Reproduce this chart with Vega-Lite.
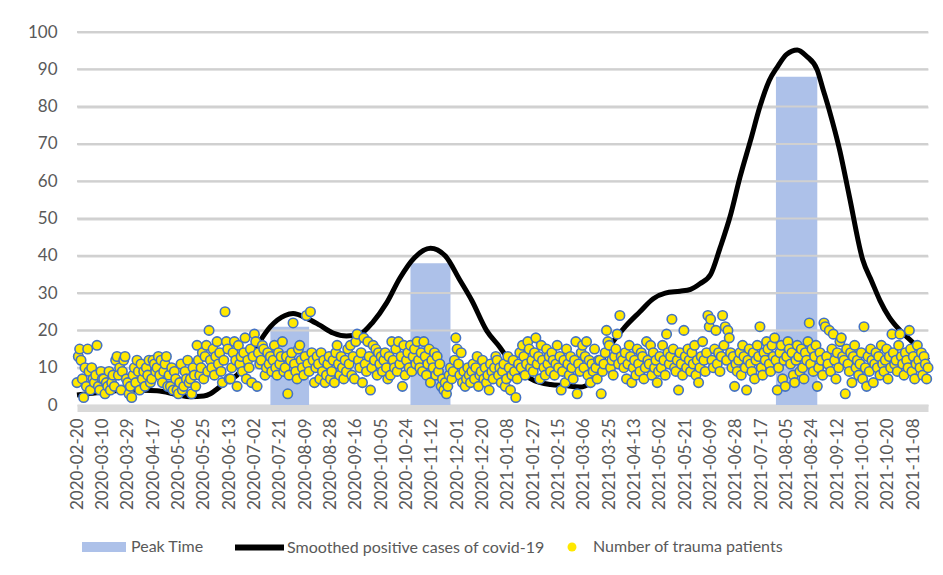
{
"$schema":"https://vega.github.io/schema/vega-lite/v6.json",
"width":851,"height":373,
"autosize":{"type":"none"},
"padding":{"left":77,"top":32,"right":15,"bottom":170},
"background":"white",
"config":{"view":{"stroke":null},"font":"Lato"},
"datasets":{
"gridvals":[{"g":10},{"g":20},{"g":30},{"g":40},{"g":50},{"g":60},{"g":70},{"g":80},{"g":90},{"g":100}],
"peaks":[{"s":"2020-07-14","e":"2020-08-12","v":21},{"s":"2020-10-27","e":"2020-11-26","v":38},{"s":"2021-07-28","e":"2021-08-28","v":88}],
"smooth":[
{"d":"2020-02-20","c":2.7},{"d":"2020-03-11","c":3.5},{"d":"2020-03-31","c":4.0},{"d":"2020-04-20","c":3.8},{"d":"2020-05-05","c":2.8},{"d":"2020-05-15","c":2.2},{"d":"2020-05-25","c":2.4},{"d":"2020-05-30","c":3.0},{"d":"2020-06-04","c":4.3},{"d":"2020-06-09","c":5.8},{"d":"2020-06-19","c":8},{"d":"2020-07-01","c":14},{"d":"2020-07-06","c":17},{"d":"2020-07-14","c":21},{"d":"2020-07-25","c":24},{"d":"2020-07-31","c":24.5},{"d":"2020-08-10","c":23.3},{"d":"2020-08-20","c":21.4},{"d":"2020-08-30","c":19.3},{"d":"2020-09-09","c":18.5},{"d":"2020-09-19","c":19},{"d":"2020-09-29","c":22.3},{"d":"2020-10-09","c":27.3},{"d":"2020-10-19","c":34},{"d":"2020-10-30","c":39.5},{"d":"2020-11-11","c":42},{"d":"2020-11-22","c":40},{"d":"2020-12-03","c":33.5},{"d":"2020-12-12","c":28},{"d":"2020-12-23","c":20},{"d":"2021-01-02","c":15.5},{"d":"2021-01-10","c":11.5},{"d":"2021-01-17","c":9},{"d":"2021-01-28","c":6.5},{"d":"2021-02-09","c":5.5},{"d":"2021-02-20","c":5.2},{"d":"2021-03-03","c":4.8},{"d":"2021-03-11","c":6},{"d":"2021-03-16","c":9},{"d":"2021-03-21","c":13},{"d":"2021-03-26","c":16},{"d":"2021-04-06","c":21},{"d":"2021-04-17","c":25},{"d":"2021-04-27","c":28.5},{"d":"2021-05-06","c":30},{"d":"2021-05-17","c":30.5},{"d":"2021-05-25","c":31},{"d":"2021-06-01","c":32.5},{"d":"2021-06-09","c":35},{"d":"2021-06-16","c":42},{"d":"2021-06-24","c":51},{"d":"2021-07-01","c":61},{"d":"2021-07-09","c":71},{"d":"2021-07-16","c":80},{"d":"2021-07-23","c":87},{"d":"2021-07-29","c":90.6},{"d":"2021-08-05","c":94},{"d":"2021-08-13","c":95.2},{"d":"2021-08-20","c":93.5},{"d":"2021-08-28","c":89.8},{"d":"2021-09-01","c":85},{"d":"2021-09-06","c":79},{"d":"2021-09-14","c":68},{"d":"2021-09-21","c":56},{"d":"2021-10-01","c":39},{"d":"2021-10-08","c":33},{"d":"2021-10-14","c":28},{"d":"2021-10-21","c":23.5},{"d":"2021-10-29","c":20},{"d":"2021-11-08","c":16.6},{"d":"2021-11-19","c":12}
],
"trauma":[
{"d":"2020-02-20","n":6},{"d":"2020-02-21","n":13},{"d":"2020-02-22","n":15},{"d":"2020-02-23","n":12},{"d":"2020-02-24","n":7},{"d":"2020-02-25","n":2},{"d":"2020-02-26","n":10},{"d":"2020-02-27","n":5},{"d":"2020-02-28","n":15},{"d":"2020-02-29","n":9},
{"d":"2020-03-01","n":4},{"d":"2020-03-02","n":10},{"d":"2020-03-03","n":7},{"d":"2020-03-04","n":6},{"d":"2020-03-05","n":8},{"d":"2020-03-06","n":16},{"d":"2020-03-07","n":5},{"d":"2020-03-08","n":4},{"d":"2020-03-09","n":9},{"d":"2020-03-10","n":7},{"d":"2020-03-11","n":7},{"d":"2020-03-12","n":3},{"d":"2020-03-13","n":6},{"d":"2020-03-14","n":5},{"d":"2020-03-15","n":9},{"d":"2020-03-16","n":4},{"d":"2020-03-17","n":6},{"d":"2020-03-18","n":8},{"d":"2020-03-19","n":5},{"d":"2020-03-20","n":12},{"d":"2020-03-21","n":13},{"d":"2020-03-22","n":8},{"d":"2020-03-23","n":10},{"d":"2020-03-24","n":4},{"d":"2020-03-25","n":9},{"d":"2020-03-26","n":12},{"d":"2020-03-27","n":13},{"d":"2020-03-28","n":7},{"d":"2020-03-29","n":6},{"d":"2020-03-30","n":3},{"d":"2020-03-31","n":5},
{"d":"2020-04-01","n":2},{"d":"2020-04-02","n":8},{"d":"2020-04-03","n":10},{"d":"2020-04-04","n":6},{"d":"2020-04-05","n":12},{"d":"2020-04-06","n":9},{"d":"2020-04-07","n":4},{"d":"2020-04-08","n":11},{"d":"2020-04-09","n":7},{"d":"2020-04-10","n":9},{"d":"2020-04-11","n":5},{"d":"2020-04-12","n":10},{"d":"2020-04-13","n":8},{"d":"2020-04-14","n":12},{"d":"2020-04-15","n":6},{"d":"2020-04-16","n":7},{"d":"2020-04-17","n":12},{"d":"2020-04-18","n":11},{"d":"2020-04-19","n":9},{"d":"2020-04-20","n":10},{"d":"2020-04-21","n":13},{"d":"2020-04-22","n":8},{"d":"2020-04-23","n":12},{"d":"2020-04-24","n":6},{"d":"2020-04-25","n":9},{"d":"2020-04-26","n":11},{"d":"2020-04-27","n":13},{"d":"2020-04-28","n":5},{"d":"2020-04-29","n":8},{"d":"2020-04-30","n":5},
{"d":"2020-05-01","n":10},{"d":"2020-05-02","n":4},{"d":"2020-05-03","n":9},{"d":"2020-05-04","n":7},{"d":"2020-05-05","n":4},{"d":"2020-05-06","n":3},{"d":"2020-05-07","n":6},{"d":"2020-05-08","n":11},{"d":"2020-05-09","n":4},{"d":"2020-05-10","n":5},{"d":"2020-05-11","n":9},{"d":"2020-05-12","n":7},{"d":"2020-05-13","n":12},{"d":"2020-05-14","n":6},{"d":"2020-05-15","n":7},{"d":"2020-05-16","n":3},{"d":"2020-05-17","n":10},{"d":"2020-05-18","n":8},{"d":"2020-05-19","n":5},{"d":"2020-05-20","n":16},{"d":"2020-05-21","n":12},{"d":"2020-05-22","n":8},{"d":"2020-05-23","n":10},{"d":"2020-05-24","n":14},{"d":"2020-05-25","n":7},{"d":"2020-05-26","n":13},{"d":"2020-05-27","n":16},{"d":"2020-05-28","n":9},{"d":"2020-05-29","n":20},{"d":"2020-05-30","n":12},{"d":"2020-05-31","n":10},
{"d":"2020-06-01","n":15},{"d":"2020-06-02","n":8},{"d":"2020-06-03","n":13},{"d":"2020-06-04","n":17},{"d":"2020-06-05","n":11},{"d":"2020-06-06","n":14},{"d":"2020-06-07","n":9},{"d":"2020-06-08","n":6},{"d":"2020-06-09","n":12},{"d":"2020-06-10","n":25},{"d":"2020-06-11","n":17},{"d":"2020-06-12","n":15},{"d":"2020-06-13","n":7},{"d":"2020-06-14","n":7},{"d":"2020-06-15","n":10},{"d":"2020-06-16","n":14},{"d":"2020-06-17","n":17},{"d":"2020-06-18","n":12},{"d":"2020-06-19","n":5},{"d":"2020-06-20","n":16},{"d":"2020-06-21","n":11},{"d":"2020-06-22","n":13},{"d":"2020-06-23","n":9},{"d":"2020-06-24","n":14},{"d":"2020-06-25","n":18},{"d":"2020-06-26","n":7},{"d":"2020-06-27","n":12},{"d":"2020-06-28","n":10},{"d":"2020-06-29","n":15},{"d":"2020-06-30","n":6},
{"d":"2020-07-01","n":13},{"d":"2020-07-02","n":19},{"d":"2020-07-03","n":17},{"d":"2020-07-04","n":5},{"d":"2020-07-05","n":14},{"d":"2020-07-06","n":11},{"d":"2020-07-07","n":12},{"d":"2020-07-08","n":16},{"d":"2020-07-09","n":15},{"d":"2020-07-10","n":8},{"d":"2020-07-11","n":10},{"d":"2020-07-12","n":14},{"d":"2020-07-13","n":11},{"d":"2020-07-14","n":13},{"d":"2020-07-15","n":9},{"d":"2020-07-16","n":12},{"d":"2020-07-17","n":16},{"d":"2020-07-18","n":10},{"d":"2020-07-19","n":8},{"d":"2020-07-20","n":14},{"d":"2020-07-21","n":11},{"d":"2020-07-22","n":13},{"d":"2020-07-23","n":17},{"d":"2020-07-24","n":9},{"d":"2020-07-25","n":10},{"d":"2020-07-26","n":13},{"d":"2020-07-27","n":3},{"d":"2020-07-28","n":8},{"d":"2020-07-29","n":12},{"d":"2020-07-30","n":14},{"d":"2020-07-31","n":22},
{"d":"2020-08-01","n":11},{"d":"2020-08-02","n":9},{"d":"2020-08-03","n":7},{"d":"2020-08-04","n":15},{"d":"2020-08-05","n":16},{"d":"2020-08-06","n":12},{"d":"2020-08-07","n":10},{"d":"2020-08-08","n":8},{"d":"2020-08-09","n":13},{"d":"2020-08-10","n":24},{"d":"2020-08-11","n":11},{"d":"2020-08-12","n":9},{"d":"2020-08-13","n":25},{"d":"2020-08-14","n":14},{"d":"2020-08-15","n":12},{"d":"2020-08-16","n":6},{"d":"2020-08-17","n":10},{"d":"2020-08-18","n":13},{"d":"2020-08-19","n":11},{"d":"2020-08-20","n":7},{"d":"2020-08-21","n":14},{"d":"2020-08-22","n":9},{"d":"2020-08-23","n":12},{"d":"2020-08-24","n":6},{"d":"2020-08-25","n":8},{"d":"2020-08-26","n":11},{"d":"2020-08-27","n":13},{"d":"2020-08-28","n":7},{"d":"2020-08-29","n":9},{"d":"2020-08-30","n":12},{"d":"2020-08-31","n":6},
{"d":"2020-09-01","n":14},{"d":"2020-09-02","n":16},{"d":"2020-09-03","n":11},{"d":"2020-09-04","n":8},{"d":"2020-09-05","n":13},{"d":"2020-09-06","n":10},{"d":"2020-09-07","n":7},{"d":"2020-09-08","n":12},{"d":"2020-09-09","n":9},{"d":"2020-09-10","n":15},{"d":"2020-09-11","n":11},{"d":"2020-09-12","n":16},{"d":"2020-09-13","n":8},{"d":"2020-09-14","n":13},{"d":"2020-09-15","n":7},{"d":"2020-09-16","n":17},{"d":"2020-09-17","n":19},{"d":"2020-09-18","n":12},{"d":"2020-09-19","n":10},{"d":"2020-09-20","n":14},{"d":"2020-09-21","n":6},{"d":"2020-09-22","n":18},{"d":"2020-09-23","n":11},{"d":"2020-09-24","n":9},{"d":"2020-09-25","n":17},{"d":"2020-09-26","n":13},{"d":"2020-09-27","n":4},{"d":"2020-09-28","n":10},{"d":"2020-09-29","n":16},{"d":"2020-09-30","n":12},
{"d":"2020-10-01","n":15},{"d":"2020-10-02","n":8},{"d":"2020-10-03","n":14},{"d":"2020-10-04","n":11},{"d":"2020-10-05","n":13},{"d":"2020-10-06","n":9},{"d":"2020-10-07","n":12},{"d":"2020-10-08","n":14},{"d":"2020-10-09","n":10},{"d":"2020-10-10","n":7},{"d":"2020-10-11","n":13},{"d":"2020-10-12","n":8},{"d":"2020-10-13","n":17},{"d":"2020-10-14","n":12},{"d":"2020-10-15","n":10},{"d":"2020-10-16","n":15},{"d":"2020-10-17","n":9},{"d":"2020-10-18","n":17},{"d":"2020-10-19","n":11},{"d":"2020-10-20","n":13},{"d":"2020-10-21","n":5},{"d":"2020-10-22","n":16},{"d":"2020-10-23","n":8},{"d":"2020-10-24","n":12},{"d":"2020-10-25","n":14},{"d":"2020-10-26","n":10},{"d":"2020-10-27","n":16},{"d":"2020-10-28","n":9},{"d":"2020-10-29","n":13},{"d":"2020-10-30","n":15},{"d":"2020-10-31","n":11},
{"d":"2020-11-01","n":17},{"d":"2020-11-02","n":12},{"d":"2020-11-03","n":10},{"d":"2020-11-04","n":14},{"d":"2020-11-05","n":9},{"d":"2020-11-06","n":17},{"d":"2020-11-07","n":13},{"d":"2020-11-08","n":8},{"d":"2020-11-09","n":11},{"d":"2020-11-10","n":15},{"d":"2020-11-11","n":6},{"d":"2020-11-12","n":12},{"d":"2020-11-13","n":10},{"d":"2020-11-14","n":14},{"d":"2020-11-15","n":8},{"d":"2020-11-16","n":13},{"d":"2020-11-17","n":9},{"d":"2020-11-18","n":11},{"d":"2020-11-19","n":5},{"d":"2020-11-20","n":7},{"d":"2020-11-21","n":4},{"d":"2020-11-22","n":6},{"d":"2020-11-23","n":3},{"d":"2020-11-24","n":5},{"d":"2020-11-25","n":8},{"d":"2020-11-26","n":10},{"d":"2020-11-27","n":7},{"d":"2020-11-28","n":9},{"d":"2020-11-29","n":12},{"d":"2020-11-30","n":18},
{"d":"2020-12-01","n":15},{"d":"2020-12-02","n":11},{"d":"2020-12-03","n":8},{"d":"2020-12-04","n":14},{"d":"2020-12-05","n":6},{"d":"2020-12-06","n":9},{"d":"2020-12-07","n":5},{"d":"2020-12-08","n":7},{"d":"2020-12-09","n":10},{"d":"2020-12-10","n":8},{"d":"2020-12-11","n":6},{"d":"2020-12-12","n":9},{"d":"2020-12-13","n":11},{"d":"2020-12-14","n":7},{"d":"2020-12-15","n":10},{"d":"2020-12-16","n":13},{"d":"2020-12-17","n":5},{"d":"2020-12-18","n":8},{"d":"2020-12-19","n":9},{"d":"2020-12-20","n":12},{"d":"2020-12-21","n":7},{"d":"2020-12-22","n":10},{"d":"2020-12-23","n":6},{"d":"2020-12-24","n":8},{"d":"2020-12-25","n":4},{"d":"2020-12-26","n":11},{"d":"2020-12-27","n":9},{"d":"2020-12-28","n":7},{"d":"2020-12-29","n":10},{"d":"2020-12-30","n":13},{"d":"2020-12-31","n":12},
{"d":"2021-01-01","n":8},{"d":"2021-01-02","n":10},{"d":"2021-01-03","n":6},{"d":"2021-01-04","n":9},{"d":"2021-01-05","n":11},{"d":"2021-01-06","n":5},{"d":"2021-01-07","n":7},{"d":"2021-01-08","n":13},{"d":"2021-01-09","n":10},{"d":"2021-01-10","n":4},{"d":"2021-01-11","n":8},{"d":"2021-01-12","n":12},{"d":"2021-01-13","n":9},{"d":"2021-01-14","n":2},{"d":"2021-01-15","n":7},{"d":"2021-01-16","n":11},{"d":"2021-01-17","n":14},{"d":"2021-01-18","n":10},{"d":"2021-01-19","n":16},{"d":"2021-01-20","n":13},{"d":"2021-01-21","n":8},{"d":"2021-01-22","n":11},{"d":"2021-01-23","n":17},{"d":"2021-01-24","n":15},{"d":"2021-01-25","n":10},{"d":"2021-01-26","n":12},{"d":"2021-01-27","n":9},{"d":"2021-01-28","n":14},{"d":"2021-01-29","n":18},{"d":"2021-01-30","n":11},{"d":"2021-01-31","n":13},
{"d":"2021-02-01","n":7},{"d":"2021-02-02","n":16},{"d":"2021-02-03","n":12},{"d":"2021-02-04","n":10},{"d":"2021-02-05","n":8},{"d":"2021-02-06","n":15},{"d":"2021-02-07","n":11},{"d":"2021-02-08","n":13},{"d":"2021-02-09","n":9},{"d":"2021-02-10","n":14},{"d":"2021-02-11","n":12},{"d":"2021-02-12","n":8},{"d":"2021-02-13","n":11},{"d":"2021-02-14","n":16},{"d":"2021-02-15","n":10},{"d":"2021-02-16","n":13},{"d":"2021-02-17","n":4},{"d":"2021-02-18","n":9},{"d":"2021-02-19","n":12},{"d":"2021-02-20","n":6},{"d":"2021-02-21","n":15},{"d":"2021-02-22","n":11},{"d":"2021-02-23","n":8},{"d":"2021-02-24","n":13},{"d":"2021-02-25","n":10},{"d":"2021-02-26","n":7},{"d":"2021-02-27","n":12},{"d":"2021-02-28","n":17},
{"d":"2021-03-01","n":3},{"d":"2021-03-02","n":11},{"d":"2021-03-03","n":9},{"d":"2021-03-04","n":14},{"d":"2021-03-05","n":16},{"d":"2021-03-06","n":10},{"d":"2021-03-07","n":13},{"d":"2021-03-08","n":17},{"d":"2021-03-09","n":8},{"d":"2021-03-10","n":12},{"d":"2021-03-11","n":6},{"d":"2021-03-12","n":11},{"d":"2021-03-13","n":9},{"d":"2021-03-14","n":15},{"d":"2021-03-15","n":10},{"d":"2021-03-16","n":7},{"d":"2021-03-17","n":12},{"d":"2021-03-18","n":12},{"d":"2021-03-19","n":3},{"d":"2021-03-20","n":9},{"d":"2021-03-21","n":11},{"d":"2021-03-22","n":14},{"d":"2021-03-23","n":20},{"d":"2021-03-24","n":17},{"d":"2021-03-25","n":16},{"d":"2021-03-26","n":10},{"d":"2021-03-27","n":12},{"d":"2021-03-28","n":8},{"d":"2021-03-29","n":13},{"d":"2021-03-30","n":15},{"d":"2021-03-31","n":19},
{"d":"2021-04-01","n":11},{"d":"2021-04-02","n":24},{"d":"2021-04-03","n":13},{"d":"2021-04-04","n":12},{"d":"2021-04-05","n":10},{"d":"2021-04-06","n":14},{"d":"2021-04-07","n":7},{"d":"2021-04-08","n":11},{"d":"2021-04-09","n":16},{"d":"2021-04-10","n":13},{"d":"2021-04-11","n":6},{"d":"2021-04-12","n":10},{"d":"2021-04-13","n":12},{"d":"2021-04-14","n":8},{"d":"2021-04-15","n":15},{"d":"2021-04-16","n":11},{"d":"2021-04-17","n":9},{"d":"2021-04-18","n":14},{"d":"2021-04-19","n":13},{"d":"2021-04-20","n":7},{"d":"2021-04-21","n":10},{"d":"2021-04-22","n":17},{"d":"2021-04-23","n":12},{"d":"2021-04-24","n":11},{"d":"2021-04-25","n":16},{"d":"2021-04-26","n":8},{"d":"2021-04-27","n":14},{"d":"2021-04-28","n":10},{"d":"2021-04-29","n":12},{"d":"2021-04-30","n":6},
{"d":"2021-05-01","n":9},{"d":"2021-05-02","n":13},{"d":"2021-05-03","n":10},{"d":"2021-05-04","n":16},{"d":"2021-05-05","n":12},{"d":"2021-05-06","n":8},{"d":"2021-05-07","n":19},{"d":"2021-05-08","n":14},{"d":"2021-05-09","n":11},{"d":"2021-05-10","n":13},{"d":"2021-05-11","n":23},{"d":"2021-05-12","n":15},{"d":"2021-05-13","n":10},{"d":"2021-05-14","n":9},{"d":"2021-05-15","n":12},{"d":"2021-05-16","n":4},{"d":"2021-05-17","n":14},{"d":"2021-05-18","n":11},{"d":"2021-05-19","n":8},{"d":"2021-05-20","n":20},{"d":"2021-05-21","n":13},{"d":"2021-05-22","n":10},{"d":"2021-05-23","n":15},{"d":"2021-05-24","n":12},{"d":"2021-05-25","n":9},{"d":"2021-05-26","n":14},{"d":"2021-05-27","n":11},{"d":"2021-05-28","n":16},{"d":"2021-05-29","n":8},{"d":"2021-05-30","n":12},{"d":"2021-05-31","n":6},
{"d":"2021-06-01","n":10},{"d":"2021-06-02","n":13},{"d":"2021-06-03","n":17},{"d":"2021-06-04","n":12},{"d":"2021-06-05","n":9},{"d":"2021-06-06","n":14},{"d":"2021-06-07","n":24},{"d":"2021-06-08","n":21},{"d":"2021-06-09","n":23},{"d":"2021-06-10","n":12},{"d":"2021-06-11","n":10},{"d":"2021-06-12","n":15},{"d":"2021-06-13","n":20},{"d":"2021-06-14","n":11},{"d":"2021-06-15","n":14},{"d":"2021-06-16","n":9},{"d":"2021-06-17","n":13},{"d":"2021-06-18","n":24},{"d":"2021-06-19","n":16},{"d":"2021-06-20","n":21},{"d":"2021-06-21","n":12},{"d":"2021-06-22","n":20},{"d":"2021-06-23","n":18},{"d":"2021-06-24","n":14},{"d":"2021-06-25","n":10},{"d":"2021-06-26","n":13},{"d":"2021-06-27","n":5},{"d":"2021-06-28","n":11},{"d":"2021-06-29","n":9},{"d":"2021-06-30","n":12},
{"d":"2021-07-01","n":14},{"d":"2021-07-02","n":8},{"d":"2021-07-03","n":16},{"d":"2021-07-04","n":13},{"d":"2021-07-05","n":10},{"d":"2021-07-06","n":4},{"d":"2021-07-07","n":12},{"d":"2021-07-08","n":15},{"d":"2021-07-09","n":11},{"d":"2021-07-10","n":9},{"d":"2021-07-11","n":14},{"d":"2021-07-12","n":7},{"d":"2021-07-13","n":12},{"d":"2021-07-14","n":16},{"d":"2021-07-15","n":13},{"d":"2021-07-16","n":21},{"d":"2021-07-17","n":10},{"d":"2021-07-18","n":8},{"d":"2021-07-19","n":14},{"d":"2021-07-20","n":12},{"d":"2021-07-21","n":17},{"d":"2021-07-22","n":15},{"d":"2021-07-23","n":11},{"d":"2021-07-24","n":9},{"d":"2021-07-25","n":16},{"d":"2021-07-26","n":13},{"d":"2021-07-27","n":18},{"d":"2021-07-28","n":12},{"d":"2021-07-29","n":4},{"d":"2021-07-30","n":10},{"d":"2021-07-31","n":14},
{"d":"2021-08-01","n":16},{"d":"2021-08-02","n":7},{"d":"2021-08-03","n":12},{"d":"2021-08-04","n":5},{"d":"2021-08-05","n":13},{"d":"2021-08-06","n":17},{"d":"2021-08-07","n":15},{"d":"2021-08-08","n":11},{"d":"2021-08-09","n":14},{"d":"2021-08-10","n":8},{"d":"2021-08-11","n":6},{"d":"2021-08-12","n":12},{"d":"2021-08-13","n":16},{"d":"2021-08-14","n":13},{"d":"2021-08-15","n":9},{"d":"2021-08-16","n":15},{"d":"2021-08-17","n":10},{"d":"2021-08-18","n":7},{"d":"2021-08-19","n":14},{"d":"2021-08-20","n":12},{"d":"2021-08-21","n":17},{"d":"2021-08-22","n":22},{"d":"2021-08-23","n":11},{"d":"2021-08-24","n":15},{"d":"2021-08-25","n":9},{"d":"2021-08-26","n":13},{"d":"2021-08-27","n":16},{"d":"2021-08-28","n":5},{"d":"2021-08-29","n":10},{"d":"2021-08-30","n":14},{"d":"2021-08-31","n":12},
{"d":"2021-09-01","n":8},{"d":"2021-09-02","n":22},{"d":"2021-09-03","n":21},{"d":"2021-09-04","n":13},{"d":"2021-09-05","n":11},{"d":"2021-09-06","n":20},{"d":"2021-09-07","n":9},{"d":"2021-09-08","n":15},{"d":"2021-09-09","n":19},{"d":"2021-09-10","n":12},{"d":"2021-09-11","n":7},{"d":"2021-09-12","n":14},{"d":"2021-09-13","n":10},{"d":"2021-09-14","n":17},{"d":"2021-09-15","n":18},{"d":"2021-09-16","n":13},{"d":"2021-09-17","n":12},{"d":"2021-09-18","n":3},{"d":"2021-09-19","n":15},{"d":"2021-09-20","n":11},{"d":"2021-09-21","n":9},{"d":"2021-09-22","n":14},{"d":"2021-09-23","n":6},{"d":"2021-09-24","n":13},{"d":"2021-09-25","n":16},{"d":"2021-09-26","n":10},{"d":"2021-09-27","n":12},{"d":"2021-09-28","n":8},{"d":"2021-09-29","n":11},{"d":"2021-09-30","n":14},
{"d":"2021-10-01","n":7},{"d":"2021-10-02","n":21},{"d":"2021-10-03","n":10},{"d":"2021-10-04","n":5},{"d":"2021-10-05","n":13},{"d":"2021-10-06","n":9},{"d":"2021-10-07","n":15},{"d":"2021-10-08","n":12},{"d":"2021-10-09","n":6},{"d":"2021-10-10","n":11},{"d":"2021-10-11","n":14},{"d":"2021-10-12","n":10},{"d":"2021-10-13","n":13},{"d":"2021-10-14","n":8},{"d":"2021-10-15","n":16},{"d":"2021-10-16","n":11},{"d":"2021-10-17","n":9},{"d":"2021-10-18","n":12},{"d":"2021-10-19","n":15},{"d":"2021-10-20","n":7},{"d":"2021-10-21","n":13},{"d":"2021-10-22","n":10},{"d":"2021-10-23","n":19},{"d":"2021-10-24","n":14},{"d":"2021-10-25","n":11},{"d":"2021-10-26","n":12},{"d":"2021-10-27","n":9},{"d":"2021-10-28","n":16},{"d":"2021-10-29","n":19},{"d":"2021-10-30","n":13},{"d":"2021-10-31","n":11},
{"d":"2021-11-01","n":8},{"d":"2021-11-02","n":14},{"d":"2021-11-03","n":12},{"d":"2021-11-04","n":10},{"d":"2021-11-05","n":20},{"d":"2021-11-06","n":15},{"d":"2021-11-07","n":9},{"d":"2021-11-08","n":13},{"d":"2021-11-09","n":7},{"d":"2021-11-10","n":11},{"d":"2021-11-11","n":16},{"d":"2021-11-12","n":12},{"d":"2021-11-13","n":10},{"d":"2021-11-14","n":14},{"d":"2021-11-15","n":8},{"d":"2021-11-16","n":13},{"d":"2021-11-17","n":11},{"d":"2021-11-18","n":7},{"d":"2021-11-19","n":10}
]
},
"layer":[
{"data":{"name":"peaks"},
 "mark":{"type":"rect"},
 "encoding":{
  "x":{"field":"s","type":"temporal",
   "scale":{"type":"utc","domain":[{"year":2020,"month":2,"date":20,"utc":true},{"year":2021,"month":11,"date":19,"utc":true}]},
   "axis":{"title":null,"format":"%Y-%m-%d","labelAngle":270,"labelFont":"Lato","labelFontSize":17,"labelColor":"#595959","grid":false,"ticks":false,"tickSize":0,"tickCount":100,"labelPadding":10,"offset":3,"domainColor":"#d9d9d9","domainWidth":7,"labelOverlap":false,"labelBound":false,"labelFlush":false,
    "values":[{"year":2020,"month":2,"date":20,"utc":true},{"year":2020,"month":3,"date":10,"utc":true},{"year":2020,"month":3,"date":29,"utc":true},{"year":2020,"month":4,"date":17,"utc":true},{"year":2020,"month":5,"date":6,"utc":true},{"year":2020,"month":5,"date":25,"utc":true},{"year":2020,"month":6,"date":13,"utc":true},{"year":2020,"month":7,"date":2,"utc":true},{"year":2020,"month":7,"date":21,"utc":true},{"year":2020,"month":8,"date":9,"utc":true},{"year":2020,"month":8,"date":28,"utc":true},{"year":2020,"month":9,"date":16,"utc":true},{"year":2020,"month":10,"date":5,"utc":true},{"year":2020,"month":10,"date":24,"utc":true},{"year":2020,"month":11,"date":12,"utc":true},{"year":2020,"month":12,"date":1,"utc":true},{"year":2020,"month":12,"date":20,"utc":true},{"year":2021,"month":1,"date":8,"utc":true},{"year":2021,"month":1,"date":27,"utc":true},{"year":2021,"month":2,"date":15,"utc":true},{"year":2021,"month":3,"date":6,"utc":true},{"year":2021,"month":3,"date":25,"utc":true},{"year":2021,"month":4,"date":13,"utc":true},{"year":2021,"month":5,"date":2,"utc":true},{"year":2021,"month":5,"date":21,"utc":true},{"year":2021,"month":6,"date":9,"utc":true},{"year":2021,"month":6,"date":28,"utc":true},{"year":2021,"month":7,"date":17,"utc":true},{"year":2021,"month":8,"date":5,"utc":true},{"year":2021,"month":8,"date":24,"utc":true},{"year":2021,"month":9,"date":12,"utc":true},{"year":2021,"month":10,"date":1,"utc":true},{"year":2021,"month":10,"date":20,"utc":true},{"year":2021,"month":11,"date":8,"utc":true}]}},
  "x2":{"field":"e"},
  "y":{"field":"v","type":"quantitative","scale":{"domain":[0,100],"nice":false},
   "axis":{"title":null,"values":[0,10,20,30,40,50,60,70,80,90,100],"tickCount":50,"grid":true,"gridColor":"#d4d4d4","gridWidth":2,"domain":false,"ticks":false,"tickSize":0,"labelPadding":20,"labelOverlap":false,"labelFont":"Lato","labelFontSize":17,"labelColor":"#595959"}},
  "y2":{"datum":0},
  "fill":{"datum":"Peak Time","scale":{"range":["#adc1e9"]},
   "legend":{"orient":"none","legendX":5,"legendY":493,"title":null,"padding":0,"symbolType":"M-1,-0.23H1V0.23H-1Z","symbolSize":1936,"symbolStrokeWidth":0,"labelOffset":5,"labelLimit":0,"labelFont":"Lato","labelFontSize":16,"labelColor":"#595959"}}
 }},
{"data":{"name":"gridvals"},
 "mark":{"type":"rule","stroke":"#d0d0d0","strokeWidth":2,"opacity":1},
 "encoding":{
  "y":{"field":"g","type":"quantitative"}}},
{"data":{"name":"smooth"},
 "mark":{"type":"line","strokeWidth":5,"interpolate":"monotone"},
 "encoding":{
  "x":{"field":"d","type":"temporal","scale":{"type":"utc"}},
  "y":{"field":"c","type":"quantitative"},
  "stroke":{"datum":"Smoothed positive cases of covid-19","scale":{"range":["#000000"]},
   "legend":{"orient":"none","legendX":155,"legendY":488,"title":null,"padding":0,"symbolType":"stroke","symbolSize":2401,"symbolStrokeWidth":6,"symbolStrokeColor":"#000000","labelOffset":0,"labelLimit":0,"labelFont":"Lato","labelFontSize":16,"labelColor":"#595959"}}
 }},
{"data":{"name":"trauma"},
 "mark":{"type":"point","filled":true,"fill":"#FFE800","stroke":"#4472C4","strokeWidth":1.6,"size":90,"opacity":1},
 "encoding":{
  "x":{"field":"d","type":"temporal","scale":{"type":"utc"}},
  "y":{"field":"n","type":"quantitative"},
  "shape":{"datum":"Number of trauma patients","scale":{"range":["circle"]},
   "legend":{"orient":"none","legendX":487,"legendY":507,"title":null,"padding":0,"symbolType":"circle","symbolSize":80,"symbolFillColor":"#FFE800","symbolStrokeColor":"#4472C4","symbolStrokeWidth":1.8,"labelOffset":13,"labelLimit":0,"labelFont":"Lato","labelFontSize":16,"labelColor":"#595959"}}
 }}
]
}
